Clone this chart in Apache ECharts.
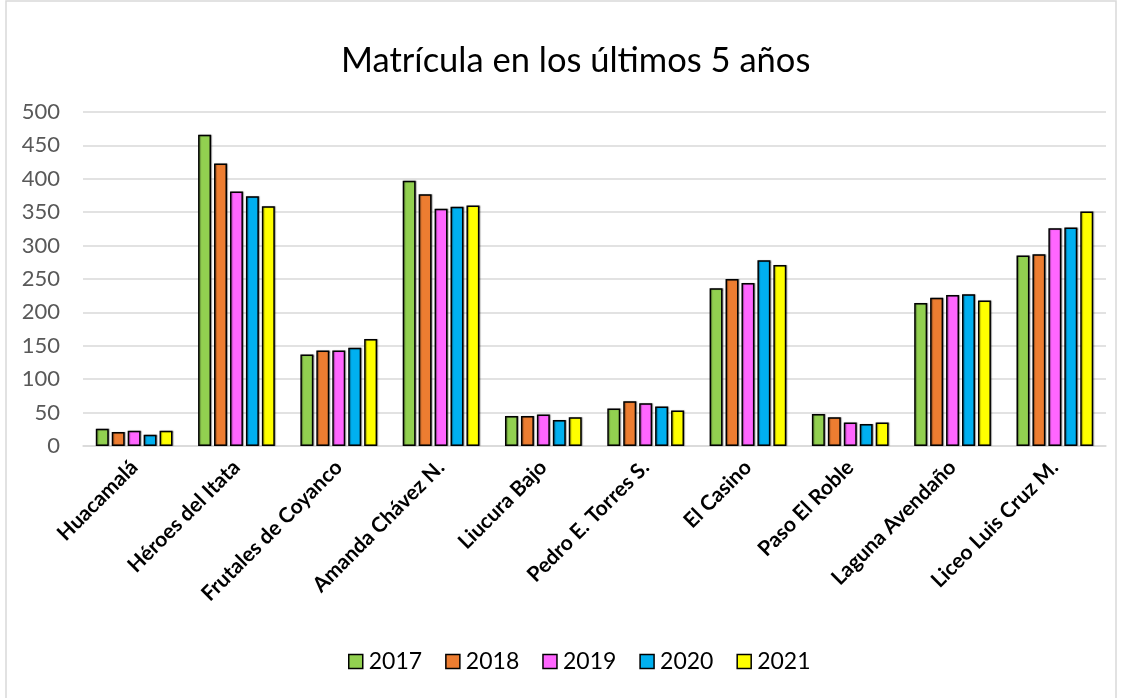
<!DOCTYPE html>
<html>
<head>
<meta charset="utf-8">
<style>
  html, body { margin: 0; padding: 0; background: #fff; }
  #chart { width: 1121px; height: 698px; }
</style>
<script src="https://cdn.jsdelivr.net/npm/echarts@6/dist/echarts.min.js"></script>
</head>
<body>
<div id="chart"></div>
<script>
// escuelas
var schools = ['Huacamalá', 'Héroes del Itata', 'Frutales de Coyanco', 'Amanda Chávez N.', 'Liucura Bajo',
  'Pedro E. Torres S.', 'El Casino', 'Paso El Roble', 'Laguna Avendaño', 'Liceo Luis Cruz M.'];
var years = ['2017', '2018', '2019', '2020', '2021'];

var m2017 = [26, 466, 137, 397, 45, 56, 236, 48, 214, 285];
var m2018 = [21, 423, 143, 377, 45, 67, 250, 43, 222, 287];
var m2019 = [23, 381, 143, 355, 47, 64, 244, 35, 226, 326];
var m2020 = [17, 374, 147, 358, 39, 59, 278, 33, 227, 327];
var m2021 = [23, 359, 160, 360, 43, 53, 271, 35, 218, 351];

var colors = ['#92d050', '#ed7d31', '#ff66ff', '#00b0f0', '#ffff00'];
var yTicks = [0, 50, 100, 150, 200, 250, 300, 350, 400, 450, 500];

var chart = echarts.init(document.getElementById('chart'));
var allData = [m2017, m2018, m2019, m2020, m2021];

var series = years.map(function (y, i) {
  return {
    name: y,
    type: 'bar',
    data: allData[i],
    barGap: '23%',
    barCategoryGap: '25%',
    itemStyle: {
      color: colors[i],
      borderColor: '#000',
      borderWidth: 1.5,
      shadowColor: 'rgba(0,0,0,0.35)',
      shadowOffsetX: 1,
      shadowOffsetY: 0,
      shadowBlur: 1
    }
  };
});

chart.setOption({
  animation: false,
  textStyle: { fontFamily: 'Lato' },
  color: colors,
  title: {
    text: 'Matrícula en los últimos 5 años',
    left: 336,
    top: 38,
    textStyle: { fontFamily: 'Lato', fontSize: 34.5, fontWeight: 'normal', color: '#000' }
  },
  legend: {
    data: years,
    bottom: 20,
    left: 343,
    itemWidth: 14,
    itemHeight: 14,
    itemGap: 23,
    icon: 'rect',
    itemStyle: { borderColor: '#000', borderWidth: 1.5 },
    textStyle: { fontFamily: 'Lato', fontSize: 23, color: '#000', padding: [0, 0, 0, 1] }
  },
  grid: { left: 83, right: 15, top: 112, bottom: 252, containLabel: false },
  xAxis: {
    type: 'category',
    data: schools,
    axisTick: { show: false },
    axisLine: { lineStyle: { color: '#d9d9d9', width: 1.5 } },
    axisLabel: {
      rotate: 45,
      interval: 0,
      margin: 18,
      color: '#000',
      fontFamily: 'Lato',
      fontWeight: 'bold',
      fontSize: 21
    }
  },
  yAxis: {
    type: 'value',
    min: yTicks[0],
    max: yTicks[yTicks.length - 1],
    interval: 50,
    axisLine: { show: false },
    axisTick: { show: false },
    axisLabel: { color: '#595959', fontFamily: 'Lato', fontSize: 22, margin: 23 },
    splitLine: { lineStyle: { color: '#d9d9d9', width: 1.5 } }
  },
  graphic: [{
    type: 'rect',
    shape: { x: 6, y: 1, width: 1110, height: 712 },
    style: { fill: 'none', stroke: '#d9d9d9', lineWidth: 1.5 },
    silent: true
  }],
  series: series
});
</script>
</body>
</html>
